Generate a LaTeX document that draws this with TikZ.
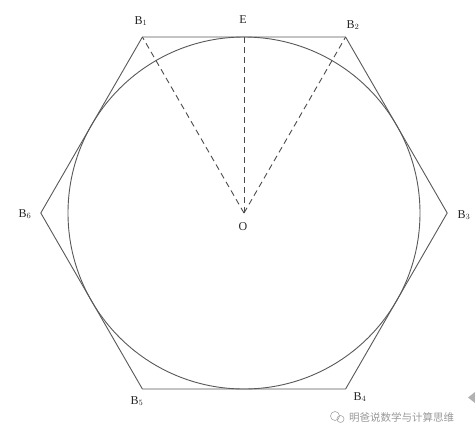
\documentclass[tikz,border=0pt]{standalone}
\usepackage{fontspec}
\setmainfont{Liberation Serif}
\newfontfamily\cjk{Noto Sans CJK SC}
\begin{document}
\begin{tikzpicture}[x=1pt,y=-1pt,
  geom/.style={draw=black!65, line width=0.9pt},
  radial/.style={draw=black!70, line width=0.9pt, dash pattern=on 6pt off 4pt},
  lbl/.style={font=\fontsize{12}{14}\selectfont, text=black!85, inner sep=0pt}]
\useasboundingbox[fill=white] (0,0) rectangle (475,437);
\coordinate (O) at (244,213);
\coordinate (B1) at (142.4,37);
\coordinate (B2) at (345.6,37);
\coordinate (B3) at (447.2,213);
\coordinate (B4) at (345.6,389);
\coordinate (B5) at (142.4,389);
\coordinate (B6) at (40.8,213);
\coordinate (E) at (244,37);
\draw[geom] (B1) -- (B2) -- (B3) -- (B4) -- (B5) -- (B6) -- cycle;
\draw[geom] (O) circle[radius=176];
\draw[radial] (O) -- (B1);
\draw[radial] (O) -- (E);
\draw[radial] (O) -- (B2);
\node[lbl] (lB1) at (141,21) {B$_1$};
\node[lbl] (lE) at (243,20) {E};
\node[lbl] (lB2) at (353,25) {B$_2$};
\node[lbl] (lB3) at (464,215) {B$_3$};
\node[lbl] (lB4) at (360,397) {B$_4$};
\node[lbl] (lB5) at (137,401) {B$_5$};
\node[lbl] (lB6) at (25,214) {B$_6$};
\node[lbl] (lO) at (243,227) {O};
% watermark
\draw[black!35, line width=0.6pt] (335,416) circle[radius=4.5];
\draw[black!35, line width=0.6pt] (340.5,419) circle[radius=3.5];
\node[inner sep=0pt, anchor=west, text=black!40, font=\cjk\fontsize{10.5}{12}\selectfont] (wm) at (349,417) {明爸说数学与计算思维};
\fill[black!30] (475,392) -- (468,397.5) -- (475,403) -- cycle;
\end{tikzpicture}
\end{document}
